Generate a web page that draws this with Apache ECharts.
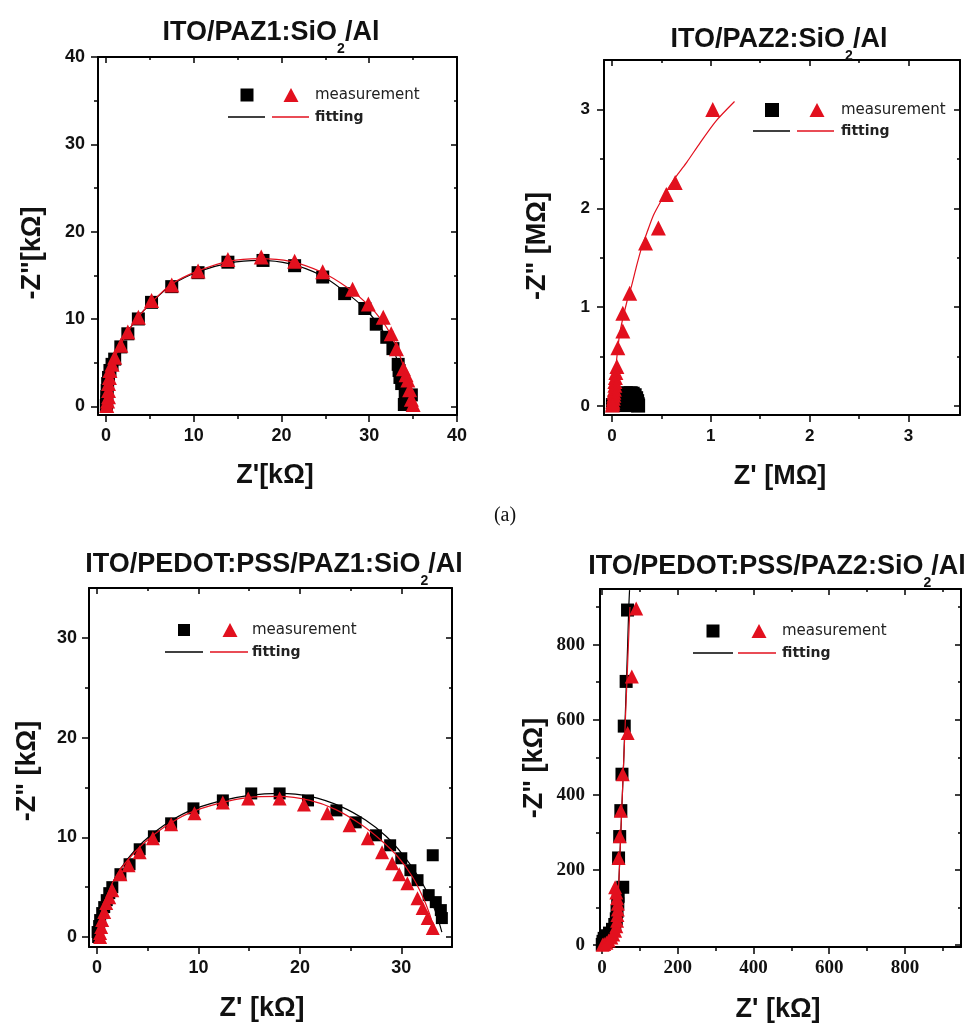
<!DOCTYPE html>
<html>
<head>
<meta charset="utf-8">
<script src="https://cdn.jsdelivr.net/npm/echarts@6/dist/echarts.min.js"></script>
<style>
html,body{margin:0;padding:0;background:#fff}
#main{width:974px;height:1023px}
</style>
</head>
<body>
<div id="main"></div>
<script>
// ---- panel 1 : ITO/PAZ1:SiO2/Al  (kOhm)
var p1Squares = [[0.05,0.1],[0.1,0.5],[0.1,1.1],[0.15,1.8],[0.2,2.6],[0.3,3.3],[0.46,4.1],[0.7,4.8],[1.0,5.4],[1.7,6.8],[2.5,8.3],[3.7,10.0],[5.2,11.9],[7.5,13.7],[10.5,15.3],[13.9,16.5],[17.9,16.7],[21.5,16.1],[24.7,14.8],[27.2,12.9],[29.5,11.2],[30.8,9.4],[32.0,7.9],[32.7,6.6],[33.3,4.8],[33.4,4.1],[33.5,3.3],[33.7,2.6],[34.1,1.3],[34.8,1.3],[34.0,0.2]];
var p1Triangles = [[0.1,0.1],[0.2,0.6],[0.3,1.1],[0.3,1.8],[0.3,2.6],[0.4,3.3],[0.46,4.1],[0.7,4.8],[1.0,5.6],[1.7,7.0],[2.5,8.5],[3.7,10.2],[5.2,12.1],[7.5,13.9],[10.5,15.5],[13.9,16.8],[17.7,17.1],[21.5,16.6],[24.7,15.4],[28.1,13.4],[29.9,11.7],[31.6,10.2],[32.5,8.3],[33.1,6.6],[33.9,4.3],[34.2,3.6],[34.4,3.0],[34.6,1.9],[34.8,0.8],[35.0,0.2]];
var p1FitBlack = [[0,0],[0.2,2],[0.6,4],[1.2,6],[2.2,8],[3.5,10],[5.3,12],[7.5,13.9],[10.5,15.4],[14,16.4],[17.5,16.7],[21,16.3],[24.5,15],[27,13.3],[29.5,11.2],[31.3,9],[32.5,7],[33.3,5],[33.8,3],[34.1,1.2],[34.2,0]];
var p1FitRed = [[0,0],[0.2,2],[0.6,4],[1.2,6],[2.2,8],[3.5,10],[5.3,12],[7.5,14],[10.5,15.5],[14,16.6],[17.5,16.9],[21,16.6],[24.5,15.4],[27.5,13.6],[29.8,11.7],[31.6,9.6],[32.8,7.5],[33.7,5.2],[34.3,3],[34.7,1.2],[34.9,0]];
var p1XTicks = [0,10,20,30,40], p1XMinor = [5,15,25,35];
var p1YTicks = [0,10,20,30,40], p1YMinor = [5,15,25,35];

// ---- panel 2 : ITO/PAZ2:SiO2/Al  (MOhm)
var p2Squares = [[0.01,0.01],[0.03,0.04],[0.15,0.01],[0.145,0.04],[0.15,0.07],[0.155,0.1],[0.13,0.12],[0.14,0.13],[0.17,0.125],[0.19,0.13],[0.21,0.125],[0.23,0.11],[0.245,0.08],[0.255,0.05],[0.26,0.02],[0.265,0.005]];
var p2Triangles = [[1.02,3.0],[0.64,2.26],[0.55,2.14],[0.47,1.80],[0.34,1.65],[0.18,1.14],[0.11,0.94],[0.11,0.76],[0.06,0.59],[0.05,0.40],[0.04,0.34],[0.035,0.29],[0.03,0.25],[0.03,0.21],[0.025,0.17],[0.02,0.14],[0.02,0.11],[0.015,0.08],[0.01,0.05],[0.01,0.03],[0.005,0.01]];
var p2FitBlack = [[0,0],[0.02,0.05],[0.05,0.09],[0.1,0.12],[0.15,0.13],[0.2,0.12],[0.24,0.08],[0.26,0.04],[0.27,0]];
var p2FitRed = [[0,0],[0.02,0.2],[0.04,0.4],[0.08,0.74],[0.15,1.05],[0.2,1.22],[0.25,1.42],[0.3,1.6],[0.36,1.77],[0.42,1.93],[0.5,2.08],[0.58,2.22],[0.67,2.35],[0.76,2.47],[0.89,2.66],[1.05,2.88],[1.24,3.08]];
var p2XTicks = [0,1,2,3], p2XMinor = [0.5,1.5,2.5];
var p2YTicks = [0,1,2,3], p2YMinor = [0.5,1.5,2.5];

// ---- panel 3 : ITO/PEDOT:PSS/PAZ1:SiO2/Al  (kOhm)
var p3Squares = [[0.1,0],[0.05,0.5],[0.2,1.1],[0.3,1.7],[0.5,2.4],[0.7,3.0],[0.95,3.7],[1.2,4.4],[1.5,5.0],[2.3,6.3],[3.2,7.3],[4.2,8.8],[5.6,10.1],[7.3,11.4],[9.5,12.9],[12.4,13.7],[15.2,14.4],[18.0,14.4],[20.8,13.7],[23.6,12.7],[25.5,11.5],[27.5,10.2],[28.9,9.2],[30.0,7.9],[30.9,6.7],[31.6,5.7],[32.7,4.2],[33.4,3.5],[33.9,2.7],[34.0,1.9],[33.1,8.2]];
var p3Triangles = [[0.3,0],[0.3,0.4],[0.4,1.0],[0.5,1.7],[0.7,2.5],[0.9,3.4],[1.2,4.0],[1.5,4.7],[2.3,6.3],[3.1,7.2],[4.2,8.5],[5.5,9.9],[7.3,11.3],[9.6,12.4],[12.4,13.5],[14.9,13.9],[18.0,13.9],[20.4,13.3],[22.7,12.4],[24.9,11.2],[26.7,9.9],[28.1,8.5],[29.1,7.4],[29.8,6.3],[30.6,5.4],[31.6,3.9],[32.1,2.9],[32.6,1.9],[33.1,0.9]];
var p3FitBlack = [[0,0],[0.3,2],[0.9,4],[1.8,6],[3.0,7.8],[4.6,9.6],[6.6,11.2],[9,12.6],[12,13.6],[15,14.2],[18,14.4],[21,14.1],[24,13.1],[26.5,11.7],[28.5,10.1],[30.2,8.2],[31.6,6.2],[32.7,4.2],[33.5,2.2],[34,0.5]];
var p3FitRed = [[0,0],[0.3,2],[0.9,4],[1.8,6],[3.0,7.7],[4.6,9.4],[6.6,11.0],[9,12.4],[12,13.4],[15,14.0],[18,14.1],[21,13.7],[23.5,12.8],[26,11.3],[28,9.7],[29.7,8],[31,6.2],[32,4.3],[32.8,2.3],[33.3,0.5]];
var p3XTicks = [0,10,20,30], p3XMinor = [5,15,25];
var p3YTicks = [0,10,20,30], p3YMinor = [5,15,25];

// ---- panel 4 : ITO/PEDOT:PSS/PAZ2:SiO2/Al  (kOhm)
var p4Squares = [[1,2],[3,10],[6,18],[12,25],[20,32],[28,42],[34,55],[38,70],[40,90],[42,110],[43,130],[55,154],[44,232],[47,289],[50,358],[53,455],[59,583],[64,702],[67.7,892]];
var p4Triangles = [[2,1],[6,3],[12,6],[18,12],[25,20],[30,28],[35,38],[38,50],[40,65],[41,80],[42,95],[42,110],[40,125],[38,140],[35,154],[44,232],[47,290],[50,358],[55,455],[68,565],[79,715],[90.6,896]];
var p4FitBlack = [[0,0],[2,10],[6,20],[14,28],[24,38],[32,52],[38,72],[41,100],[44,150],[48,250],[52,350],[56,450],[60,560],[64,680],[68,800],[71,900],[73,945]];
var p4FitRed = [[0,0],[10,6],[20,15],[28,30],[35,55],[40,90],[43,130],[46,200],[50,300],[54,400],[58,500],[62,600],[66,700],[70,800],[74,900]];
var p4XTicks = [0,200,400,600,800], p4XMinor = [100,300,500,700,900];
var p4YTicks = [0,200,400,600,800], p4YMinor = [100,300,500,700,900];

var SANS = 'Liberation Sans', SERIF = 'Liberation Serif';
var RED = '#e2101e';

var chart = echarts.init(document.getElementById('main'));
var grids = [], xAxes = [], yAxes = [], series = [], graphics = [];

function axis(list, g, pos, min, max, vals, len, inside, line, lab) {
    list.push({
        type: 'value', gridIndex: g, position: pos, min: min, max: max,
        splitLine: {show: false},
        axisLine: {show: line, onZero: false, lineStyle: {color: '#000', width: 2}},
        axisTick: {show: true, inside: inside, length: len, customValues: vals,
            lineStyle: {color: '#000', width: 1.5}},
        axisLabel: lab ? {show: true, customValues: vals, margin: lab.margin, color: '#111',
            fontFamily: lab.font, fontWeight: 'bold', fontSize: lab.size} : {show: false}
    });
    return list.length - 1;
}

function panel(p) {
    var g = grids.length;
    grids.push({left: p.box[0], top: p.box[1], width: p.box[2], height: p.box[3]});
    var labX = {font: p.font, size: p.size, margin: p.mx};
    var labY = {font: p.font, size: p.size, margin: p.my};
    var xi = axis(xAxes, g, 'bottom', p.xr[0], p.xr[1], p.xt, 7, false, true, labX);
    axis(xAxes, g, 'bottom', p.xr[0], p.xr[1], p.xm, 4, false, false);
    axis(xAxes, g, 'top', p.xr[0], p.xr[1], p.xt, 6, true, true);
    axis(xAxes, g, 'top', p.xr[0], p.xr[1], p.xm, 3, true, false);
    var yi = axis(yAxes, g, 'left', p.yr[0], p.yr[1], p.yt, 7, false, true, labY);
    axis(yAxes, g, 'left', p.yr[0], p.yr[1], p.ym, 4, false, false);
    axis(yAxes, g, 'right', p.yr[0], p.yr[1], p.yt, 6, true, true);
    axis(yAxes, g, 'right', p.yr[0], p.yr[1], p.ym, 3, true, false);

    series.push({type: 'scatter', xAxisIndex: xi, yAxisIndex: yi, data: p.sq,
        symbol: 'rect', symbolSize: p.ss, itemStyle: {color: '#000', opacity: 1}, z: 2});
    series.push({type: 'line', xAxisIndex: xi, yAxisIndex: yi, data: p.fb, smooth: 0.25,
        showSymbol: false, lineStyle: {color: '#000', width: 1.2}, z: 3});
    series.push({type: 'line', xAxisIndex: xi, yAxisIndex: yi, data: p.fr, smooth: 0.25,
        showSymbol: false, lineStyle: {color: RED, width: 1.2}, z: 3});
    series.push({type: 'scatter', xAxisIndex: xi, yAxisIndex: yi, data: p.tr,
        symbol: 'triangle', symbolSize: p.ts, itemStyle: {color: RED, opacity: 1}, z: 4});

    // title with subscript
    graphics.push({type: 'text', x: p.title[1], y: p.title[2] - 11.5, z: 10, style: {
        text: p.title[0], textAlign: 'center', textVerticalAlign: 'top', fill: '#111',
        rich: {
            m: {fontSize: 27, fontWeight: 'bold', fontFamily: SANS, lineHeight: 30, verticalAlign: 'top', fill: '#111'},
            s: {fontSize: 14, fontWeight: 'bold', fontFamily: SANS, lineHeight: 14, padding: [23, 0, 0, 0], verticalAlign: 'top', fill: '#111'}
        }}});
    // axis names
    graphics.push({type: 'text', x: p.xname[1], y: p.xname[2], z: 10, style: {
        text: p.xname[0], textAlign: 'center', textVerticalAlign: 'middle',
        font: 'bold 27px "Liberation Sans"', fill: '#111'}});
    graphics.push({type: 'text', x: p.yname[1], y: p.yname[2], rotation: Math.PI / 2, z: 10, style: {
        text: p.yname[0], textAlign: 'center', textVerticalAlign: 'middle',
        font: 'bold 27px "Liberation Sans"', fill: '#111'}});
    // legend
    var L = p.leg, s = p.ss, h = 14;
    graphics.push({type: 'rect', z: 10, shape: {x: L.sq - s / 2, y: L.y - s / 2, width: s, height: s}, style: {fill: '#000'}});
    graphics.push({type: 'polygon', z: 10, shape: {points: [[L.tri - 7.5, L.y + h / 2], [L.tri + 7.5, L.y + h / 2], [L.tri, L.y - h / 2]]}, style: {fill: RED}});
    graphics.push({type: 'text', z: 10, x: L.txt, y: L.y, style: {text: 'measurement', textVerticalAlign: 'middle',
        font: '15px "DejaVu Sans"', fill: '#222'}});
    graphics.push({type: 'line', z: 10, shape: {x1: L.b[0], y1: L.y2, x2: L.b[1], y2: L.y2}, style: {stroke: '#000', lineWidth: 1.5}});
    graphics.push({type: 'line', z: 10, shape: {x1: L.r[0], y1: L.y2, x2: L.r[1], y2: L.y2}, style: {stroke: RED, lineWidth: 1.5}});
    graphics.push({type: 'text', z: 10, x: L.txt, y: L.y2, style: {text: 'fitting', textVerticalAlign: 'middle',
        font: 'bold 14px "DejaVu Sans"', fill: '#222'}});
}

panel({box: [98, 57, 359, 358], xr: [-0.9, 40], yr: [-1, 40],
    xt: p1XTicks, xm: p1XMinor, yt: p1YTicks, ym: p1YMinor,
    font: SANS, size: 18, mx: 12, my: 13,
    sq: p1Squares, tr: p1Triangles, fb: p1FitBlack, fr: p1FitRed, ss: 13, ts: 15,
    title: ['{m|ITO/PAZ1:SiO}{s|2}{m|/Al}', 271, 30.5],
    xname: ["Z'[kΩ]", 275, 476], yname: ['-Z"[kΩ]', 33, 253],
    leg: {sq: 247, tri: 291, txt: 315, y: 95, y2: 117, b: [228, 265], r: [272, 309]}});

panel({box: [604, 60, 356, 355], xr: [-0.08, 3.52], yr: [-0.09, 3.5],
    xt: p2XTicks, xm: p2XMinor, yt: p2YTicks, ym: p2YMinor,
    font: SANS, size: 17, mx: 13, my: 14,
    sq: p2Squares, tr: p2Triangles, fb: p2FitBlack, fr: p2FitRed, ss: 14, ts: 15,
    title: ['{m|ITO/PAZ2:SiO}{s|2}{m|/Al}', 779, 37.5],
    xname: ["Z' [MΩ]", 780, 477], yname: ['-Z" [MΩ]', 538, 246],
    leg: {sq: 772, tri: 817, txt: 841, y: 110, y2: 131, b: [753, 790], r: [797, 834]}});

panel({box: [89, 588, 363, 359], xr: [-0.8, 35], yr: [-1, 35],
    xt: p3XTicks, xm: p3XMinor, yt: p3YTicks, ym: p3YMinor,
    font: SANS, size: 18, mx: 12, my: 12,
    sq: p3Squares, tr: p3Triangles, fb: p3FitBlack, fr: p3FitRed, ss: 12, ts: 14,
    title: ['{m|ITO/PEDOT:PSS/PAZ1:SiO}{s|2}{m|/Al}', 274, 563],
    xname: ["Z' [kΩ]", 262, 1009], yname: ['-Z" [kΩ]', 28, 771],
    leg: {sq: 184, tri: 230, txt: 252, y: 630, y2: 652, b: [165, 203], r: [210, 248]}});

panel({box: [600, 589, 361, 358], xr: [-5, 948], yr: [-5, 948],
    xt: p4XTicks, xm: p4XMinor, yt: p4YTicks, ym: p4YMinor,
    font: SERIF, size: 19, mx: 12, my: 15,
    sq: p4Squares, tr: p4Triangles, fb: p4FitBlack, fr: p4FitRed, ss: 13, ts: 14,
    title: ['{m|ITO/PEDOT:PSS/PAZ2:SiO}{s|2}{m|/Al}', 777, 565],
    xname: ["Z' [kΩ]", 778, 1010], yname: ['-Z" [kΩ]', 535, 768],
    leg: {sq: 713, tri: 759, txt: 782, y: 631, y2: 653, b: [693, 733], r: [738, 776]}});

graphics.push({type: 'text', x: 505, y: 516, style: {text: '(a)', textAlign: 'center', textVerticalAlign: 'middle',
    font: '20px "Liberation Serif"', fill: '#111'}});

chart.setOption({
    animation: false,
    backgroundColor: '#fff',
    grid: grids,
    xAxis: xAxes,
    yAxis: yAxes,
    series: series,
    graphic: graphics
});
</script>
</body>
</html>
